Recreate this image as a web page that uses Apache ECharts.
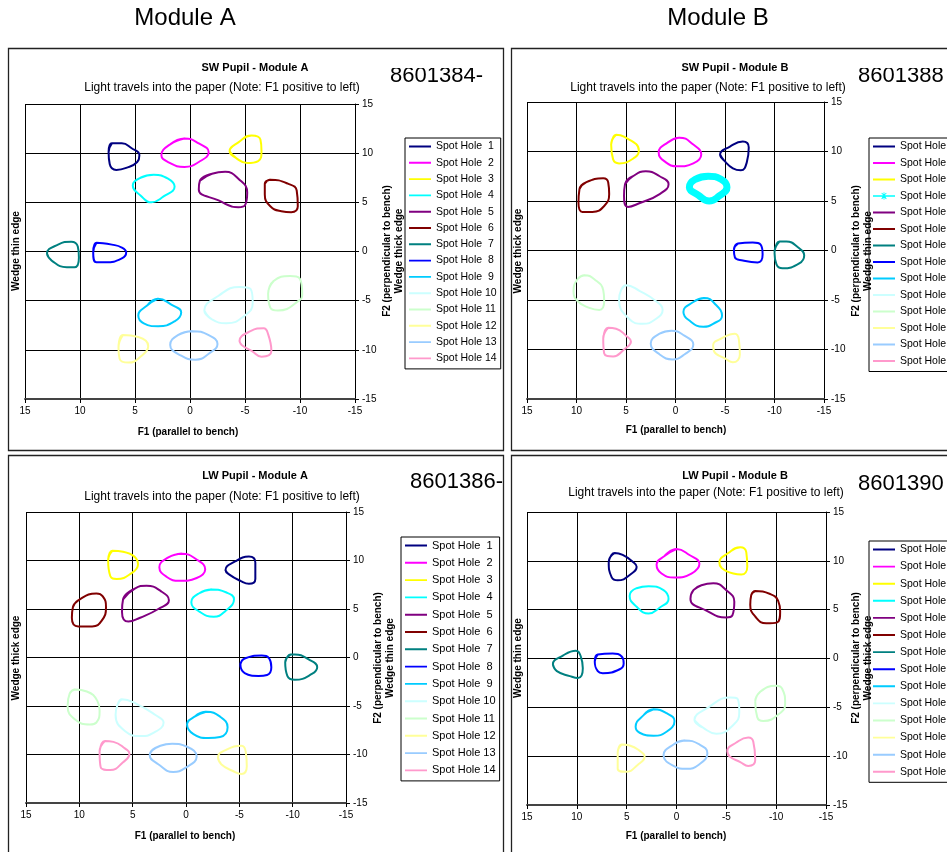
<!DOCTYPE html>
<html>
<head>
<meta charset="utf-8">
<script src="https://cdn.jsdelivr.net/npm/echarts@6/dist/echarts.min.js"></script>
<style>
  html, body { margin: 0; padding: 0; background: #fff; }
  #chart { width: 947px; height: 852px; }
</style>
</head>
<body>
<div id="chart"></div>
<script>
// spot hole names and Excel palette colours
const spotNames = ['Spot Hole  1', 'Spot Hole  2', 'Spot Hole  3', 'Spot Hole  4', 'Spot Hole  5',
  'Spot Hole  6', 'Spot Hole  7', 'Spot Hole  8', 'Spot Hole  9', 'Spot Hole 10',
  'Spot Hole 11', 'Spot Hole 12', 'Spot Hole 13', 'Spot Hole 14']
const spotColors = ['#000080', '#FF00FF', '#FFFF00', '#00FFFF', '#800080', '#800000', '#008080',
  '#0000FF', '#00CCFF', '#CCFFFF', '#CCFFCC', '#FFFF99', '#99CCFF', '#FF99CC']

const moduleHeaders = ['Module A', 'Module B']
const panelTitles = ['SW Pupil - Module A', 'SW Pupil - Module B', 'LW Pupil - Module A', 'LW Pupil - Module B']
const subTitle = 'Light travels into the paper (Note: F1 positive to left)'
const partNumbers = ['8601384-', '8601388', '8601386-', '8601390']
const leftEdgeLabels = ['Wedge thin edge', 'Wedge thick edge', 'Wedge thick edge', 'Wedge thin edge']
const rightEdgeLabels = ['Wedge thick edge', 'Wedge thin edge', 'Wedge thin edge', 'Wedge thick edge']
const xAxisTitle = 'F1 (parallel to bench)'
const yAxisTitle = 'F2 (perpendicular to bench)'
const axisMin = -15
const axisMax = 15
const axisStep = 5

// spot outlines [F1, F2], one loop per spot hole
const swPupilA = [
  [[7.1, 11.0], [6.2, 11.0], [5.3, 10.5], [4.6, 9.8], [4.8, 9.1], [5.8, 8.5], [6.7, 8.3], [7.3, 8.9], [7.4, 10.1]],
  [[0.5, 11.5], [-0.8, 11.0], [-1.7, 10.1], [-0.8, 9.1], [0.5, 8.6], [2.0, 9.1], [2.6, 9.8], [1.8, 10.9]],
  [[-3.6, 10.2], [-4.4, 11.1], [-5.6, 11.8], [-6.4, 11.4], [-6.5, 10.2], [-6.2, 9.2], [-5.2, 9.0], [-4.2, 9.5]],
  [[3.3, 7.8], [2.0, 7.4], [1.4, 6.6], [2.4, 5.6], [3.5, 5.0], [4.5, 5.7], [5.2, 6.7], [4.5, 7.5]],
  [[-2.0, 7.9], [-3.2, 8.1], [-4.4, 7.4], [-5.2, 6.0], [-5.0, 4.7], [-4.4, 4.5], [-2.6, 5.2], [-0.8, 6.3], [-0.9, 7.2]],
  [[-7.3, 7.3], [-8.9, 6.9], [-9.7, 6.2], [-9.8, 4.6], [-9.2, 4.0], [-8.3, 4.1], [-7.3, 4.6], [-6.8, 5.8], [-6.8, 6.9]],
  [[13.0, -0.2], [12.0, 0.7], [10.8, 1.0], [10.2, 0.5], [10.1, -0.6], [10.5, -1.6], [11.2, -1.6], [12.6, -0.9]],
  [[8.5, 0.9], [7.1, 0.7], [6.2, 0.4], [5.8, -0.1], [6.2, -0.7], [7.7, -1.1], [8.5, -1.1], [8.8, -0.1]],
  [[2.9, -4.8], [1.7, -5.4], [0.8, -6.2], [1.4, -7.1], [2.9, -7.6], [4.2, -7.3], [4.7, -6.5], [3.9, -5.5]],
  [[-1.3, -6.0], [-2.6, -4.5], [-4.5, -3.6], [-5.5, -3.8], [-5.7, -5.2], [-5.0, -6.5], [-3.3, -7.3], [-2.0, -6.9]],
  [[-7.6, -3.0], [-9.1, -2.5], [-10.0, -2.8], [-10.2, -4.3], [-9.9, -5.0], [-8.0, -6.0], [-7.3, -5.7], [-7.1, -4.3]],
  [[6.1, -8.5], [4.7, -8.7], [3.8, -9.6], [4.4, -10.6], [5.6, -11.3], [6.4, -10.9], [6.5, -9.8]],
  [[-0.2, -8.1], [-1.7, -8.5], [-2.5, -9.4], [-1.7, -10.4], [-0.5, -11.0], [0.8, -10.6], [1.8, -9.5], [1.1, -8.5]],
  [[-4.5, -9.1], [-5.5, -8.1], [-6.7, -7.8], [-7.1, -8.4], [-7.4, -10.1], [-6.5, -10.7], [-5.6, -10.1], [-4.7, -9.5]]
]

const swPupilB = [
  [[-4.5, 9.7], [-5.5, 10.5], [-6.8, 11.0], [-7.4, 10.4], [-7.2, 8.9], [-6.6, 8.1], [-5.8, 8.3], [-4.9, 9.1]],
  [[-0.4, 11.4], [-1.8, 10.7], [-2.6, 9.7], [-1.8, 8.8], [-0.2, 8.5], [1.1, 9.0], [1.7, 9.9], [0.8, 10.9]],
  [[6.0, 11.7], [5.2, 11.5], [3.7, 10.1], [4.1, 9.4], [5.7, 8.8], [6.3, 9.2], [6.5, 10.7]],
  [[-3.3, 7.5], [-4.6, 7.2], [-5.2, 6.4], [-4.4, 5.5], [-3.4, 5.0], [-2.3, 5.6], [-1.4, 6.4], [-2.0, 7.2]],
  [[4.3, 7.5], [3.0, 8.0], [1.6, 7.5], [0.7, 6.7], [1.6, 5.7], [3.6, 4.8], [4.8, 4.4], [5.2, 5.5], [5.1, 6.7]],
  [[9.0, 6.9], [7.3, 7.3], [6.8, 6.9], [6.7, 5.7], [7.2, 4.5], [8.4, 3.9], [9.4, 3.9], [9.8, 4.8], [9.7, 6.2]],
  [[-10.5, 0.9], [-11.2, 0.9], [-12.4, 0.3], [-13.0, -0.5], [-12.5, -1.3], [-10.8, -1.8], [-10.2, -1.4], [-10.0, -0.2]],
  [[-6.3, 0.7], [-7.8, 0.8], [-8.6, 0.6], [-8.8, -0.4], [-8.3, -1.2], [-6.8, -1.0], [-6.0, -0.7], [-5.9, 0.1]],
  [[-2.9, -4.8], [-4.1, -5.5], [-4.7, -6.6], [-3.8, -7.4], [-2.8, -7.7], [-1.3, -7.0], [-0.8, -6.2], [-1.8, -5.2]],
  [[5.0, -3.5], [3.6, -4.1], [2.0, -5.1], [1.3, -6.0], [2.1, -7.0], [3.3, -7.4], [4.7, -6.9], [5.7, -5.0], [5.5, -4.0]],
  [[9.2, -2.5], [8.2, -2.9], [7.3, -4.0], [7.2, -5.1], [7.7, -6.0], [8.7, -5.8], [9.9, -5.1], [10.3, -4.1], [9.9, -2.9]],
  [[-3.8, -9.6], [-4.8, -8.8], [-6.0, -8.4], [-6.4, -9.0], [-6.5, -10.5], [-5.8, -11.3], [-5.0, -10.9], [-3.9, -10.2]],
  [[0.4, -8.1], [-0.9, -8.6], [-1.8, -9.5], [-0.9, -10.5], [0.3, -11.0], [1.6, -10.5], [2.5, -9.4], [1.6, -8.4]],
  [[6.8, -7.8], [6.0, -7.9], [5.0, -8.6], [4.5, -9.2], [5.2, -10.0], [6.3, -10.7], [7.2, -10.4], [7.3, -8.9]]
]

const lwPupilA = [
  [[-3.7, 9.0], [-4.6, 9.9], [-5.9, 10.4], [-6.5, 9.8], [-6.5, 8.1], [-5.9, 7.6], [-5.1, 7.9], [-4.0, 8.6]],
  [[0.4, 10.7], [-1.0, 10.1], [-1.8, 9.1], [-1.0, 8.2], [0.6, 7.9], [1.8, 8.3], [2.5, 9.3], [1.7, 10.3]],
  [[6.9, 11.0], [5.9, 10.9], [4.5, 9.6], [5.1, 8.7], [6.5, 8.1], [7.1, 8.4], [7.3, 10.0]],
  [[-2.4, 7.0], [-3.8, 6.7], [-4.5, 6.0], [-3.7, 4.8], [-2.6, 4.2], [-1.3, 4.7], [-0.5, 5.7], [-1.2, 6.6]],
  [[4.8, 7.1], [3.7, 7.4], [2.3, 6.8], [1.6, 5.9], [2.6, 5.0], [4.3, 4.1], [5.4, 3.7], [6.0, 4.7], [5.9, 6.0]],
  [[10.1, 5.9], [8.4, 6.6], [7.8, 6.3], [7.5, 5.2], [7.9, 3.8], [8.8, 3.2], [10.1, 3.2], [10.7, 4.1], [10.6, 5.2]],
  [[-9.8, 0.3], [-10.2, 0.3], [-11.5, -0.2], [-12.3, -1.0], [-11.8, -1.7], [-10.2, -2.3], [-9.5, -1.9], [-9.3, -0.5]],
  [[-5.5, -0.1], [-7.1, 0.2], [-7.8, -0.1], [-8.0, -1.0], [-7.6, -1.8], [-6.8, -1.9], [-5.5, -1.6], [-5.1, -0.7]],
  [[-1.9, -5.6], [-3.2, -6.1], [-3.9, -7.2], [-3.2, -8.2], [-2.1, -8.3], [-0.7, -7.9], [-0.1, -6.9], [-0.8, -6.1]],
  [[6.0, -4.3], [4.6, -4.8], [2.9, -5.9], [2.1, -6.7], [3.1, -7.8], [4.2, -8.1], [5.7, -7.6], [6.6, -5.9], [6.4, -4.8]],
  [[10.4, -3.3], [9.3, -3.5], [8.3, -4.5], [8.1, -5.5], [8.4, -6.7], [9.0, -6.9], [10.4, -6.4], [11.1, -5.0], [10.9, -3.7]],
  [[-3.0, -10.3], [-3.8, -9.5], [-5.2, -9.1], [-5.6, -9.7], [-5.7, -11.2], [-5.2, -12.0], [-4.4, -11.7], [-3.3, -11.0]],
  [[1.3, -8.9], [-0.1, -9.2], [-1.0, -10.2], [0.1, -11.4], [1.2, -11.8], [2.6, -11.0], [3.4, -10.1], [2.4, -9.1]],
  [[7.6, -8.6], [6.8, -8.7], [5.7, -9.4], [5.3, -9.9], [5.9, -10.8], [7.1, -11.6], [8.0, -11.3], [8.1, -9.7]]
]

const lwPupilB = [
  [[6.2, 10.8], [5.4, 10.6], [4.4, 9.9], [4.0, 9.4], [4.5, 8.7], [5.9, 8.0], [6.5, 8.3], [6.8, 9.9]],
  [[0.0, 11.2], [-1.3, 10.6], [-2.3, 9.7], [-1.5, 8.7], [0.2, 8.3], [1.5, 8.7], [2.0, 9.6], [1.2, 10.5]],
  [[-4.3, 9.8], [-5.2, 10.8], [-6.4, 11.4], [-7.0, 10.9], [-7.1, 9.4], [-6.5, 8.6], [-5.7, 8.7], [-4.5, 9.3]],
  [[2.8, 7.4], [1.3, 7.0], [0.8, 6.1], [1.7, 5.2], [2.8, 4.6], [4.0, 5.3], [4.7, 6.4], [4.0, 7.2]],
  [[-2.5, 7.5], [-3.7, 7.7], [-5.0, 7.0], [-5.8, 5.8], [-5.6, 4.4], [-5.0, 4.2], [-3.0, 4.9], [-1.4, 6.1], [-1.7, 7.0]],
  [[-7.9, 6.9], [-9.4, 6.6], [-10.2, 5.9], [-10.4, 4.8], [-10.1, 3.7], [-9.0, 3.6], [-7.9, 4.3], [-7.4, 5.5], [-7.5, 6.5]],
  [[12.4, -0.6], [11.4, 0.3], [10.1, 0.8], [9.6, 0.2], [9.4, -1.0], [9.9, -2.0], [10.7, -1.8], [12.0, -1.3]],
  [[7.9, 0.4], [6.4, 0.5], [5.5, 0.2], [5.3, -0.5], [5.7, -1.1], [7.4, -1.5], [7.9, -1.3], [8.2, -0.3]],
  [[2.3, -5.2], [1.0, -5.6], [0.2, -6.4], [1.0, -7.5], [2.3, -7.9], [3.7, -7.6], [4.1, -7.0], [3.3, -5.8]],
  [[-1.8, -6.3], [-3.2, -5.0], [-5.4, -4.0], [-6.1, -4.1], [-6.3, -5.5], [-5.7, -6.8], [-4.0, -7.7], [-2.7, -7.1]],
  [[-8.4, -3.4], [-10.0, -2.8], [-10.6, -3.1], [-10.9, -4.6], [-10.5, -5.5], [-8.7, -6.4], [-8.1, -6.0], [-7.9, -4.4]],
  [[5.5, -8.8], [4.7, -8.9], [3.5, -9.6], [3.2, -10.0], [3.9, -10.9], [5.1, -11.6], [5.9, -11.3], [5.9, -9.6]],
  [[-0.8, -8.4], [-2.3, -8.8], [-3.1, -9.7], [-2.2, -10.9], [-1.0, -11.3], [0.3, -11.0], [1.3, -9.9], [0.3, -8.8]],
  [[-5.1, -9.5], [-6.0, -8.6], [-7.2, -8.1], [-7.7, -8.5], [-7.9, -10.4], [-7.2, -11.0], [-6.4, -10.6], [-5.3, -10.0]]
]

const panelData = [swPupilA, swPupilB, lwPupilA, lwPupilB]

// layout of the four chart boxes (pixels)
const FONT = '"Liberation Sans", Arial, sans-serif'
const layouts = [
  { frame: [8, 48, 495, 402], grid: [25, 104, 330, 295], title: [255, 68], sub: [222, 88], num: [390, 76], clip: true,
    legend: [405, 138, 5.3, 11, 10.5], leftX: 16, rightX: 387, midY: 251, xName: [188, 432] },
  { frame: [511, 48, 470, 402], grid: [527, 102, 297, 297], title: [735, 68], sub: [708, 88], num: [858, 76], clip: true,
    legend: [869, 138, 5.5, 11, 10.5], leftX: 518, rightX: 856, midY: 251, xName: [676, 430] },
  { frame: [8, 455, 495, 400], grid: [26, 512, 320, 291], title: [255, 476], sub: [222, 497], num: [410, 482], clip: false,
    legend: [401, 537, 6.3, 11, 11], leftX: 16, rightX: 378, midY: 658, xName: [185, 836] },
  { frame: [511, 455, 470, 400], grid: [527, 512, 299, 293], title: [735, 476], sub: [706, 493], num: [858, 484], clip: false,
    legend: [869, 541, 6.1, 11, 10.5], leftX: 518, rightX: 856, midY: 658, xName: [676, 836] }
]

// legend icons: a plain line, and a line with the x marker (corner specks fix the box size)
const lineIcon = 'path://M0,0L0.01,0L0,0.01Z M23,11L22.99,11L23,10.99Z M0,4.5L23,4.5L23,6.5L0,6.5Z'
const markIcon = 'path://M0,0L0.01,0L0,0.01Z M23,11L22.99,11L23,10.99Z M0,4.8L23,4.8L23,6.2L0,6.2Z ' +
  'M8.7,2.7L9.4,2L11.5,4.1L13.6,2L14.3,2.7L12.2,4.8L14.3,8.3L13.6,9L11.5,6.9L9.4,9L8.7,8.3L10.8,4.8Z ' +
  'M11.1,1.6L11.9,1.6L11.9,9.4L11.1,9.4Z'

const chart = echarts.init(document.getElementById('chart'), null, { renderer: 'canvas' })

function txt (x, y, text, font, align, rotate) {
  return {
    type: 'text', x: x, y: y, rotation: rotate ? Math.PI / 2 : 0, silent: true, z: 5,
    style: { text: text, font: font, fill: '#000', align: align || 'center', textAlign: align || 'center',
      verticalAlign: 'middle', textVerticalAlign: 'middle' }
  }
}

const grids = []
const xAxes = []
const yAxes = []
const legends = []
const series = []
const graphics = []

graphics.push(txt(185, 18, moduleHeaders[0], '24px ' + FONT))
graphics.push(txt(718, 18, moduleHeaders[1], '24px ' + FONT))

layouts.forEach(function (L, p) {
  const suffix = '\u200b'.repeat(p + 1)
  grids.push({ left: L.grid[0], top: L.grid[1], width: L.grid[2], height: L.grid[3], containLabel: false })
  xAxes.push({
    gridIndex: p, type: 'value', min: axisMin, max: axisMax, interval: axisStep, inverse: true,
    axisLine: { onZero: false, lineStyle: { color: '#444', width: 2 } },
    axisTick: { length: 4, lineStyle: { color: '#000' } },
    axisLabel: { color: '#000', fontSize: 10, fontFamily: FONT, margin: 7 },
    splitLine: { show: true, lineStyle: { color: '#000', width: 1 } }
  })
  yAxes.push({
    gridIndex: p, type: 'value', position: 'right', min: axisMin, max: axisMax, interval: axisStep,
    axisLine: { show: true, onZero: false, lineStyle: { color: '#000', width: 1 } },
    axisTick: { show: true, length: 4, lineStyle: { color: '#000' } },
    axisLabel: { color: '#000', fontSize: 10, fontFamily: FONT, margin: 7 },
    splitLine: { show: true, lineStyle: { color: '#000', width: 1 } }
  })

  const legendData = []
  panelData[p].forEach(function (loop, i) {
    const name = spotNames[i] + suffix
    const marked = (p === 1 && i === 3)
    series.push({
      type: 'line', name: name, xAxisIndex: p, yAxisIndex: p,
      // the loop is walked once round and closed, with the last point in front so the join is smooth
      data: [loop[loop.length - 1]].concat(loop, [loop[0]]),
      smooth: 0.5,
      symbol: 'none',
      lineStyle: { color: spotColors[i], width: marked ? 7 : 2 },
      itemStyle: { color: spotColors[i] },
      silent: true, z: 3
    })
    legendData.push({ name: name, icon: marked ? markIcon : lineIcon })
  })

  legends.push({
    orient: 'vertical', left: L.legend[0], top: L.legend[1],
    data: legendData, selectedMode: false,
    itemWidth: 22, itemHeight: L.legend[3], itemGap: L.legend[2],
    padding: [3, 4, 5, 4], borderColor: '#000', borderWidth: 1, backgroundColor: '#fff',
    textStyle: { fontFamily: FONT, fontSize: L.legend[4], color: '#000' }
  })

  // frame and texts
  graphics.push({
    type: 'rect', silent: true, z: -10,
    shape: { x: L.frame[0] + 0.5, y: L.frame[1] + 0.5, width: L.frame[2], height: L.frame[3] },
    style: { fill: '#fff', stroke: '#222', lineWidth: 1.3 }
  })
  graphics.push(txt(L.title[0], L.title[1], panelTitles[p], 'bold 11px ' + FONT))
  graphics.push(txt(L.sub[0], L.sub[1], subTitle, '12px ' + FONT))
  graphics.push(txt(L.num[0], L.num[1], partNumbers[p], '22px ' + FONT, 'left'))
  if (L.clip) {
    // the part number box cuts off the top of the digits
    graphics.push({
      type: 'rect', silent: true, z: 6,
      shape: { x: L.num[0] - 3, y: L.frame[1] + 2, width: 100, height: L.num[1] - L.frame[1] - 10 },
      style: { fill: '#fff' }
    })
  }
  graphics.push(txt(L.leftX, L.midY, leftEdgeLabels[p], 'bold 10px ' + FONT, 'center', true))
  graphics.push(txt(L.rightX, L.midY, yAxisTitle, 'bold 10px ' + FONT, 'center', true))
  graphics.push(txt(L.rightX + 12, L.midY, rightEdgeLabels[p], 'bold 10px ' + FONT, 'center', true))
  graphics.push(txt(L.xName[0], L.xName[1], xAxisTitle, 'bold 10px ' + FONT))
})

chart.setOption({
  animation: false,
  backgroundColor: '#fff',
  grid: grids,
  xAxis: xAxes,
  yAxis: yAxes,
  legend: legends,
  series: series,
  graphic: { elements: graphics }
})
</script>
</body>
</html>
